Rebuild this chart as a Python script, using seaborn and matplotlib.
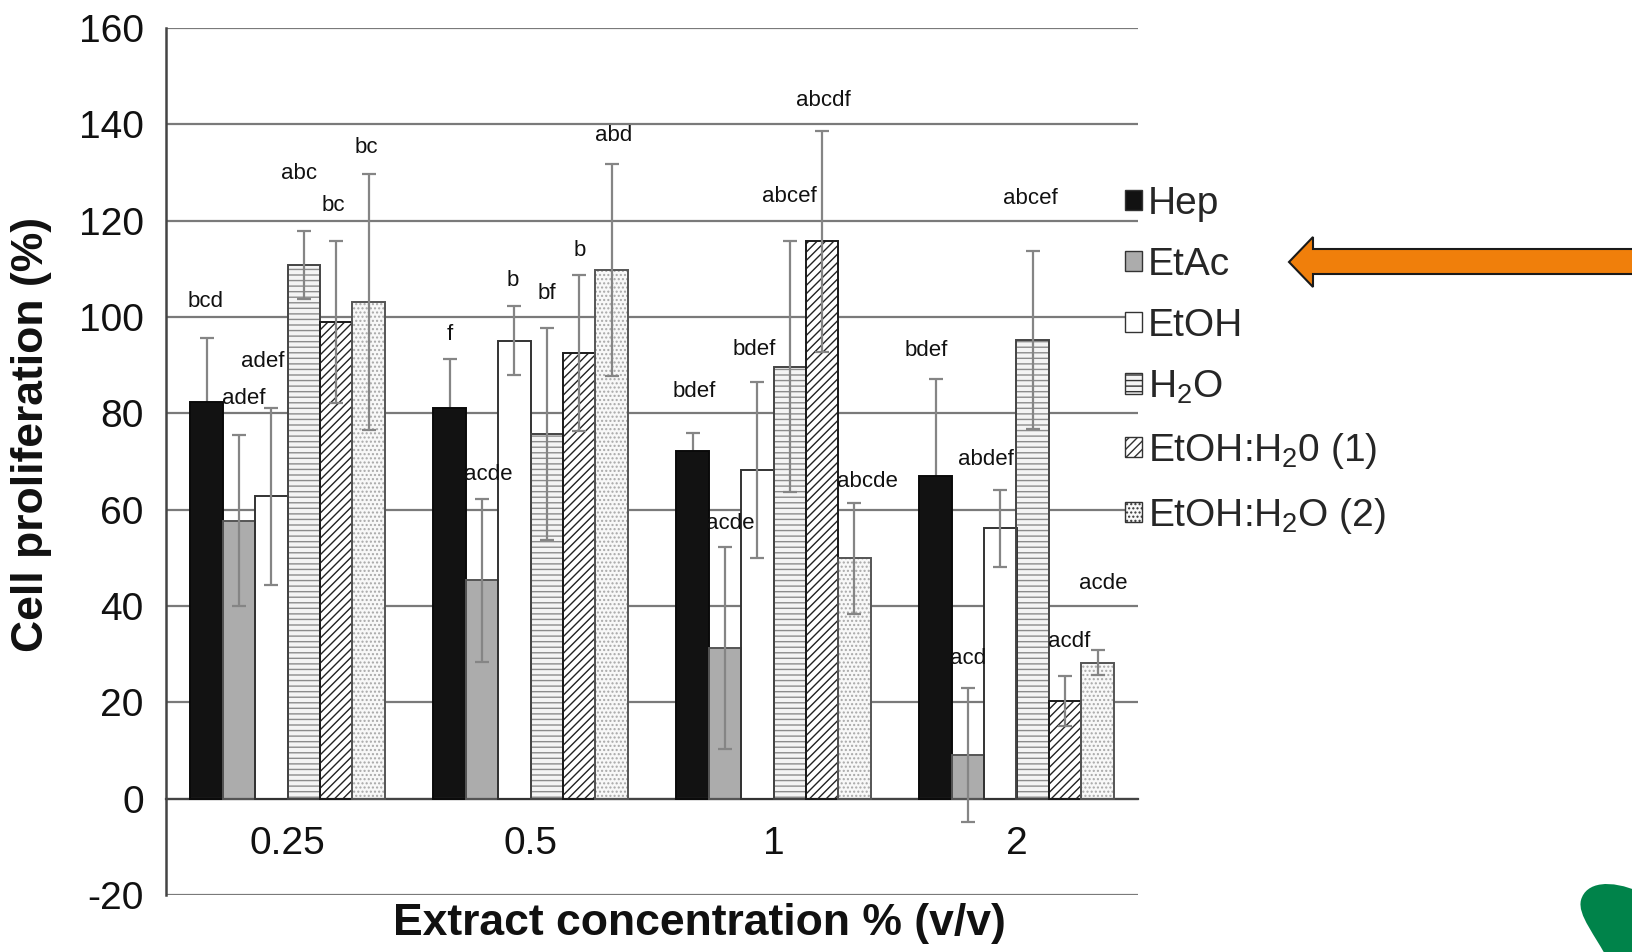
import numpy as np
import pandas as pd
import matplotlib
matplotlib.use("Agg")
import matplotlib.pyplot as plt
import matplotlib.patches as mpatches
from matplotlib.path import Path
import seaborn as sns

# ---------------- data ----------------
concentrations = ["0.25", "0.5", "1", "2"]
series = ["Hep", "EtAc", "EtOH", "H2O", "EtOH:H20 (1)", "EtOH:H2O (2)"]
legend_labels = ["Hep", "EtAc", "EtOH", "H$_2$O", "EtOH:H$_2$0 (1)", "EtOH:H$_2$O (2)"]

hep_vals = [82.4, 81.2, 72.1, 66.9]
etac_vals = [57.7, 45.3, 31.3, 9.1]
etoh_vals = [62.8, 95.1, 68.3, 56.1]
h2o_vals = [110.8, 75.7, 89.7, 95.2]
mix1_vals = [98.9, 92.5, 115.7, 20.3]
mix2_vals = [103.1, 109.8, 49.9, 28.2]

hep_err = [13.2, 10.1, 3.9, 20.3]
etac_err = [17.8, 17.0, 21.0, 13.9]
etoh_err = [18.4, 7.1, 18.3, 7.9]
h2o_err = [7.0, 22.0, 26.0, 18.5]
mix1_err = [16.8, 16.2, 23.0, 5.2]
mix2_err = [26.5, 22.0, 11.5, 2.6]

# significance letters, per concentration group (one per bar)
letters_025 = ["bcd", "adef", "adef", "abc", "bc", "bc"]
letters_05 = ["f", "acde", "b", "bf", "b", "abd"]
letters_1 = ["bdef", "acde", "bdef", "abcef", "abcdf", "abcde"]
letters_2 = ["bdef", "acd", "abdef", "abcef", "acdf", "acde"]

values = [hep_vals, etac_vals, etoh_vals, h2o_vals, mix1_vals, mix2_vals]
errors = [hep_err, etac_err, etoh_err, h2o_err, mix1_err, mix2_err]
letters = [letters_025, letters_05, letters_1, letters_2]

df = pd.DataFrame({
    "conc": [c for s in series for c in concentrations],
    "series": [s for s in series for c in concentrations],
    "value": [v for vals in values for v in vals],
})

# ---------------- styles / layout ----------------
sns.set_style("white")
plt.rcParams["font.family"] = ["Liberation Sans", "DejaVu Sans"]
plt.rcParams["mathtext.fontset"] = "custom"
plt.rcParams["mathtext.rm"] = "Liberation Sans"
plt.rcParams["mathtext.default"] = "regular"
plt.rcParams["axes.unicode_minus"] = False
plt.rcParams["hatch.linewidth"] = 1.0

fill_colors = {"Hep": "#121212", "EtAc": "#acacac", "EtOH": "#ffffff",
               "H2O": "#f4f4f4", "EtOH:H20 (1)": "#ffffff", "EtOH:H2O (2)": "#f8f8f8"}
hatch_styles = [None, None, None, "---", "////", "...."]
hatch_colors = ["#121212", "#acacac", "#ffffff", "#8c8c8c", "#222222", "#a8a8a8"]
edge_colors = {"Hep": "#0a0a0a", "EtAc": "#555555", "EtOH": "#333333",
               "H2O": "#444444", "EtOH:H20 (1)": "#1a1a1a", "EtOH:H2O (2)": "#555555"}
errbar_z = [1.5, 4, 4, 4, 4, 4]

# label placement (bar-relative offsets within a group, and y in data units)
letter_dx = [[-0.339, -0.180, -0.101, 0.048, 0.188, 0.324],
             [-0.332, -0.173, -0.073, 0.069, 0.201, 0.341],
             [-0.325, -0.179, -0.079, 0.065, 0.204, 0.387],
             [-0.370, -0.198, -0.127, 0.059, 0.217, 0.355]]
letter_y = [[103.2, 83.1, 90.7, 129.8, 123.1, 135.2],
            [96.3, 67.4, 107.5, 104.9, 113.9, 137.6],
            [84.6, 57.2, 93.2, 125.1, 144.9, 65.8],
            [93.1, 29.0, 70.4, 124.5, 32.7, 44.6]]

W, H = 1632, 952
fig = plt.figure(figsize=(W / 100, H / 100), dpi=100)
ax = fig.add_axes([166 / W, 1 - 895 / H, (1138 - 166) / W, (895 - 28) / H])

# filled (hatched) bars
sns.barplot(data=df, x="conc", y="value", hue="series", order=concentrations,
            hue_order=series, palette=fill_colors, errorbar=None, width=0.8,
            saturation=1, legend=False, ax=ax, zorder=2)
for i, cont in enumerate(ax.containers[:6]):
    for bar in cont:
        bar.set_edgecolor(hatch_colors[i])
        bar.set_linewidth(0)
        if hatch_styles[i]:
            bar.set_hatch(hatch_styles[i])

# outlines
sns.barplot(data=df, x="conc", y="value", hue="series", order=concentrations,
            hue_order=series, palette=edge_colors, errorbar=None, width=0.8,
            saturation=1, fill=False, linewidth=1.4, legend=False, ax=ax, zorder=3)

# error bars at the library-computed bar centres
for i, cont in enumerate(ax.containers[:6]):
    xs = [b.get_x() + b.get_width() / 2 for b in cont]
    ax.errorbar(xs, values[i], yerr=errors[i], fmt="none", ecolor="#858585",
                elinewidth=1.6, capsize=5, capthick=1.6, zorder=errbar_z[i])

# significance letters
for g in range(len(concentrations)):
    for j in range(len(series)):
        ax.text(g + letter_dx[g][j], letter_y[g][j], letters[g][j], fontsize=16,
                ha="center", va="center", color="#111111", zorder=5)

# axes styling
ax.set_ylim(-20, 160)
ax.set_yticks(np.arange(-20, 161, 20))
ax.set_xlim(-0.5, 3.5)
ax.set_xlabel("")
ax.set_ylabel("")
ax.yaxis.grid(True, color="#7a7a7a", linewidth=1.6)
ax.xaxis.grid(False)
ax.set_axisbelow(True)
for s in ["top", "right"]:
    ax.spines[s].set_visible(False)
ax.spines["bottom"].set_position(("data", 0))
ax.spines["bottom"].set_color("#444444")
ax.spines["bottom"].set_linewidth(1.6)
ax.spines["left"].set_color("#444444")
ax.spines["left"].set_linewidth(1.8)
ax.tick_params(axis="y", direction="out", length=7, width=1.4, color="#444444",
               labelsize=28, pad=9, labelcolor="#111111")
ax.tick_params(axis="x", which="major", length=0, labelsize=28, pad=20,
               labelcolor="#111111")
ax.set_xticks([0.5, 1.5, 2.5, 3.5], minor=True)
ax.tick_params(axis="x", which="minor", direction="out", length=6.5, width=1.4,
               color="#444444")

# axis titles
fig.text(32 / W, 1 - 434 / H, "Cell proliferation (%)", rotation=90, fontsize=32,
         fontweight="bold", ha="center", va="center", color="#111111")
fig.text(699 / W, 1 - 924 / H, "Extract concentration % (v/v)", fontsize=32,
         fontweight="bold", ha="center", va="center", color="#111111")

# legend
handles = []
for i, s in enumerate(series):
    handles.append(mpatches.Patch(facecolor=fill_colors[s], edgecolor="#333333",
                                  hatch=hatch_styles[i], linewidth=1.0,
                                  label=legend_labels[i]))
fig.legend(handles=handles, loc="upper left", bbox_to_anchor=(1125 / W, 1 - 186 / H),
           frameon=False, fontsize=28, handlelength=0.44, handleheight=0.44,
           handletextpad=0.15, labelspacing=0.64, borderpad=0, borderaxespad=0)

# orange arrow pointing at the legend
arrow_px = [(1289, 262), (1313, 237), (1313, 249), (1640, 249), (1640, 274),
            (1313, 274), (1313, 287)]
fig.patches.append(mpatches.Polygon([(x / W, 1 - y / H) for x, y in arrow_px],
                                    closed=True, facecolor="#F07F0B", edgecolor="#1a1a1a",
                                    linewidth=1.5, transform=fig.transFigure, figure=fig))

# green decorative shape (bottom-right corner)
blob_px = [(1640, 892), (1610, 879), (1586, 882), (1581, 900),
           (1577, 915), (1596, 936), (1608, 960), (1640, 960), (1640, 892)]
codes = [Path.MOVETO, Path.CURVE4, Path.CURVE4, Path.CURVE4,
         Path.CURVE4, Path.CURVE4, Path.CURVE4, Path.LINETO, Path.CLOSEPOLY]
blob = Path([(x / W, 1 - y / H) for x, y in blob_px], codes)
fig.patches.append(mpatches.PathPatch(blob, facecolor="#00834A", edgecolor="none",
                                      transform=fig.transFigure, figure=fig))

fig.savefig("out.png", dpi=100)
